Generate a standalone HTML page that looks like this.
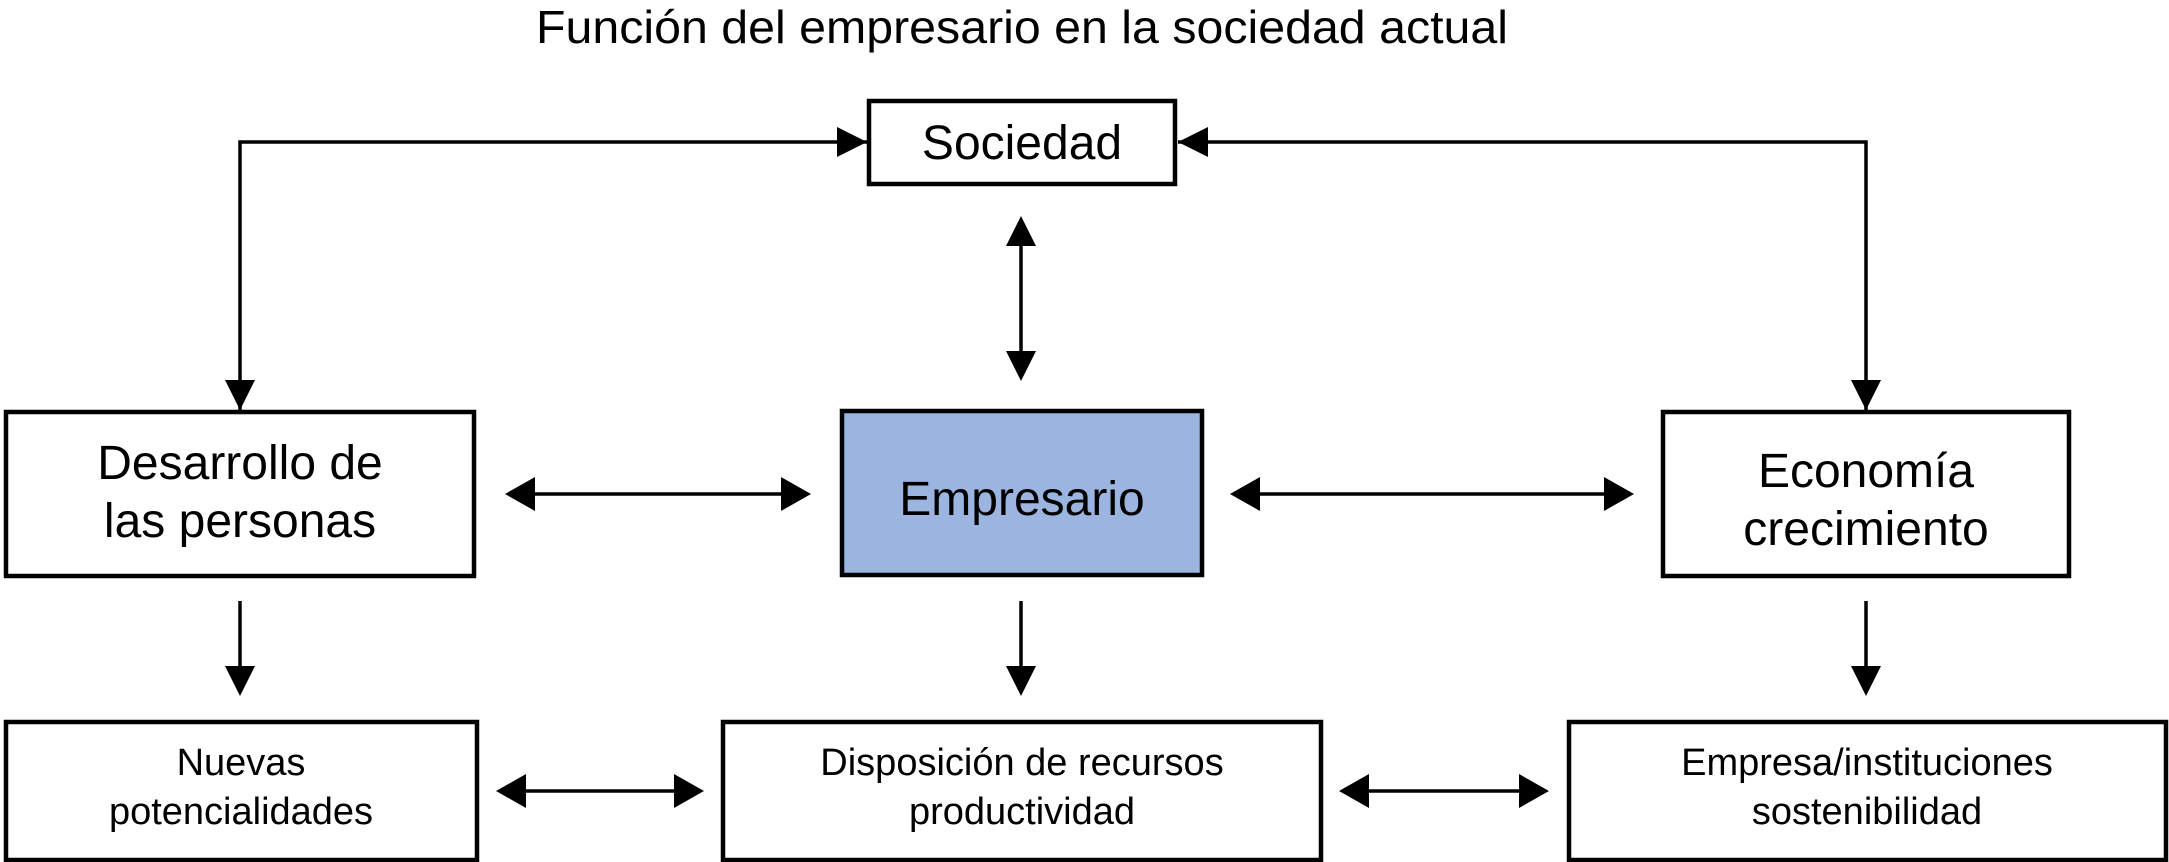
<!DOCTYPE html>
<html><head><meta charset="utf-8"><style>html,body{margin:0;padding:0;background:#fff}svg{display:block}</style></head>
<body>
<svg width="2169" height="862" viewBox="0 0 2169 862" xmlns="http://www.w3.org/2000/svg" font-family="Liberation Sans, Arial, sans-serif" fill="#000">
<text x="1022" y="43" font-size="46" text-anchor="middle" textLength="972" lengthAdjust="spacingAndGlyphs">Función del empresario en la sociedad actual</text>
<g fill="#fff" stroke="#000" stroke-width="4.5">
<rect x="869" y="101" width="306" height="83"/>
<rect x="6" y="412" width="468" height="164"/>
<rect x="842" y="411" width="360" height="164" fill="#9bb5e0"/>
<rect x="1663" y="412" width="406" height="164"/>
<rect x="6" y="722" width="471" height="138"/>
<rect x="723" y="722" width="598" height="138"/>
<rect x="1569" y="722" width="597" height="138"/>
</g>
<g stroke="#000" stroke-width="3.5" fill="none">
<path d="M867,142H240V410"/>
<path d="M1178,142H1866V410"/>
<path d="M1021,240V357"/>
<path d="M530,494H786"/>
<path d="M1255,494H1609"/>
<path d="M240,601V670"/><path d="M1021,601V670"/><path d="M1866,601V670"/>
<path d="M521,791H679"/>
<path d="M1364,791H1524"/>
</g>
<g>
<path d="M867,142l-30,-15v30z"/><path d="M1178,142l30,-15v30z"/>
<path d="M240,410l-15,-30h30z"/><path d="M1866,410l-15,-30h30z"/>
<path d="M1021,216l-15,30h30z"/><path d="M1021,381l-15,-30h30z"/>
<path d="M505,494l30,-17v34z"/><path d="M811,494l-30,-17v34z"/>
<path d="M1230,494l30,-17v34z"/><path d="M1634,494l-30,-17v34z"/>
<path d="M240,696l-15,-30h30z"/><path d="M1021,696l-15,-30h30z"/><path d="M1866,696l-15,-30h30z"/>
<path d="M496,791l30,-17v34z"/><path d="M704,791l-30,-17v34z"/>
<path d="M1339,791l30,-17v34z"/><path d="M1549,791l-30,-17v34z"/>
</g>
<g font-size="48" text-anchor="middle">
<text x="1022" y="159">Sociedad</text>
<text x="240" y="479">Desarrollo de</text>
<text x="240" y="537">las personas</text>
<text x="1022" y="515">Empresario</text>
<text x="1866" y="487">Economía</text>
<text x="1866" y="545">crecimiento</text>
</g>
<g font-size="38" text-anchor="middle">
<text x="241" y="775">Nuevas</text>
<text x="241" y="824">potencialidades</text>
<text x="1022" y="775">Disposición de recursos</text>
<text x="1022" y="824">productividad</text>
<text x="1867" y="775">Empresa/instituciones</text>
<text x="1867" y="824">sostenibilidad</text>
</g>
</svg>
</body></html>
